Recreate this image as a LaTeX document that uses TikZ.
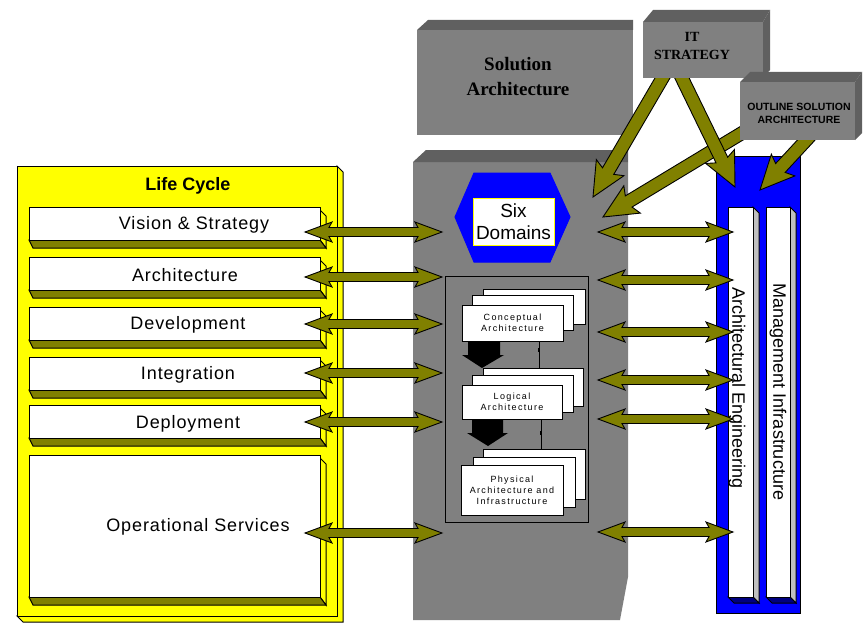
\documentclass[tikz,border=0pt]{standalone}
\usepackage{fontspec}
\setmainfont{Liberation Sans}
\newfontfamily\serifb{Liberation Serif}
\newfontfamily\stackfont{Liberation Sans}[LetterSpace=15]
\newfontfamily\rowfont{Liberation Sans}[LetterSpace=5]
\usetikzlibrary{calc}
\definecolor{ylw}{HTML}{FFFF00}
\definecolor{olv}{HTML}{808000}
\definecolor{gry}{HTML}{808080}
\definecolor{dgry}{HTML}{606060}
\definecolor{blu}{HTML}{0000FF}
\definecolor{dblu}{HTML}{000080}
\definecolor{lgry}{HTML}{C0C0C0}
% double-headed fat arrow between two named points
\newcommand\dblarr[2]{%
  \filldraw[arr] let \p1=(#1),\p2=(#2),\n1={atan2(\y2-\y1,\x2-\x1)} in
   (\p1) -- ($(\p1)+(\n1:27pt)+(\n1+90:10pt)$) -- ($(\p1)+(\n1:24pt)+(\n1+90:4.5pt)$)
   -- ($(\p2)+(\n1+180:24pt)+(\n1+90:4.5pt)$) -- ($(\p2)+(\n1+180:27pt)+(\n1+90:10pt)$)
   -- (\p2) -- ($(\p2)+(\n1+180:27pt)+(\n1-90:10pt)$) -- ($(\p2)+(\n1+180:24pt)+(\n1-90:4.5pt)$)
   -- ($(\p1)+(\n1:24pt)+(\n1-90:4.5pt)$) -- ($(\p1)+(\n1:27pt)+(\n1-90:10pt)$) -- cycle;}
% single-headed fat arrow
\newcommand\sglarr[2]{%
  \filldraw[arr] let \p1=(#1),\p2=(#2),\n1={atan2(\y2-\y1,\x2-\x1)} in
   ($(\p1)+(\n1+90:6.5pt)$) -- ($(\p2)+(\n1+180:30pt)+(\n1+90:6.5pt)$)
   -- ($(\p2)+(\n1+180:34pt)+(\n1+90:16pt)$) -- (\p2)
   -- ($(\p2)+(\n1+180:34pt)+(\n1-90:16pt)$) -- ($(\p2)+(\n1+180:30pt)+(\n1-90:6.5pt)$)
   -- ($(\p1)+(\n1-90:6.5pt)$) -- cycle;}
% life-cycle row: name, y top, height, text x, text y, text
\newcommand\lcrow[6]{%
  \filldraw[fill=ylw] (320,#2+3) -- (326,#2+9) -- (326,#2+#3+8) -- (320,#2+#3) -- cycle;
  \filldraw[fill=olv] (29,#2+#3) -- (320,#2+#3) -- (326,#2+#3+8) -- (33,#2+#3+8) -- cycle;
  \node[wbox,minimum width=291pt,minimum height=#3pt] (#1) at (29,#2) {};
  \node[rowtxt] (#1t) at (#4,#5) {#6};}
\begin{document}
\begin{tikzpicture}[x=1pt,y=-1pt,line width=1pt,line join=miter,
  nw/.style={anchor=north west,inner sep=0pt,outer sep=0pt},
  wbox/.style={nw,draw=black,fill=white},
  sbox/.style={nw,draw=black,fill=white,line width=0.9pt,align=center,
     font=\stackfont\fontsize{9}{11}\selectfont},
  rowtxt/.style={font=\rowfont\fontsize{18}{21}\selectfont},
  arr/.style={fill=olv,draw=black,line width=0.9pt}]
\useasboundingbox (0,0) rectangle (863,626);
\fill[white] (0,0) rectangle (863,626);

% ---- Life cycle ----
\filldraw[fill=ylw] (337,166) -- (343,172) -- (343,622) -- (23,622) -- (17,616) -- (337,616) -- cycle;
\node[nw,draw,fill=ylw,minimum width=320pt,minimum height=450pt] (lc) at (17,166) {};
\node[font=\bfseries\fontsize{18}{20}\selectfont] (lct) at (188,186) {Life Cycle};
\lcrow{vs}{207}{33}{194}{225}{Vision \& Strategy}
\lcrow{ar}{257}{33}{185}{275}{Architecture}
\lcrow{dv}{307}{33}{188}{325}{Development}
\lcrow{ig}{357}{33}{188}{375}{Integration}
\lcrow{dp}{405}{33}{188}{424}{Deployment}
\lcrow{op}{455}{142}{198}{527}{Operational Services}

% ---- Solution architecture box ----
\fill[dgry] (417,30) -- (428,20) -- (633,20) -- (633,30) -- cycle;
\node[nw,fill=gry,minimum width=216pt,minimum height=105pt] (sa) at (417,30) {};
\node[font=\serifb\bfseries\fontsize{19}{25}\selectfont,align=center] (sat) at (518,77) {Solution\\Architecture};

% ---- grey column ----
\fill[gry] (413,162) -- (628,162) -- (628,577) -- (620,620) -- (413,620) -- cycle;
\fill[dgry] (413,162) -- (426,150) -- (628,150) -- (628,162) -- cycle;

% six domains
\filldraw[fill=blu,draw=blu] (455,217) -- (474,173) -- (550,173) -- (570,217) -- (550,262) -- (474,262) -- cycle;
\node[nw,draw=ylw,fill=white,minimum width=81pt,minimum height=47pt,align=center,
      font=\fontsize{19}{22}\selectfont] (sd) at (473,198) {Six\\Domains};

% inner frame
\node[nw,draw,fill=gry,minimum width=143pt,minimum height=246pt] (fr) at (445,276) {};

% conceptual stack
\node[sbox,minimum width=102pt,minimum height=35pt] (c3) at (483,289) {};
\node[sbox,minimum width=101pt,minimum height=35pt] (c2) at (472,295) {};
\node[sbox,minimum width=101pt,minimum height=36pt] (c1) at (462,305) {Conceptual\\Architecture};
% logical stack
\node[sbox,minimum width=100pt,minimum height=38pt] (l3) at (483,368) {};
\node[sbox,minimum width=101pt,minimum height=37pt] (l2) at (472,375) {};
\node[sbox,minimum width=100pt,minimum height=34pt] (l1) at (462,385) {Logical\\Architecture};
% physical stack
\node[sbox,minimum width=102pt,minimum height=50pt] (p3) at (483,449) {};
\node[sbox,minimum width=102pt,minimum height=50pt] (p2) at (473,457) {};
\node[sbox,minimum width=102pt,minimum height=50pt] (p1) at (461,465) {Physical\\Architecture and\\Infrastructure};

% thin links
\coordinate (xa) at (539,0);
\coordinate (xb) at (541,0);
\draw (c1.south -| xa) -- (l3.north -| xa);
\draw[line width=2pt] (539,348) -- (539,352);
\draw (l1.south -| xb) -- (p3.north -| xb);
\draw[line width=2pt] (541,431) -- (541,435);
% black block arrows
\fill[black] (468,342) -- (500,342) -- (500,355) -- (504,355) -- (482,368) -- (462,355) -- (468,355) -- cycle;
\fill[black] (472,420) -- (503,420) -- (503,433) -- (508,433) -- (488,446) -- (467,433) -- (472,433) -- cycle;

% ---- blue frame ----
\node[nw,draw,fill=blu,minimum width=84pt,minimum height=457pt] (bf) at (716,156) {};
\filldraw[fill=lgry] (753,207) -- (759,213) -- (759,603) -- (753,597) -- cycle;
\filldraw[fill=dblu] (728,597) -- (753,597) -- (759,603) -- (734,603) -- cycle;
\node[wbox,minimum width=25pt,minimum height=390pt] (ae) at (728,207) {};
\filldraw[fill=lgry] (790,207) -- (796,213) -- (796,603) -- (790,597) -- cycle;
\filldraw[fill=dblu] (766,597) -- (790,597) -- (796,603) -- (772,603) -- cycle;
\node[wbox,minimum width=24pt,minimum height=390pt] (mi) at (766,207) {};
\node[rotate=-90,font=\fontsize{18}{20}\selectfont] (aet) at (737,388) {Architectural Engineering};
\node[rotate=-90,font=\fontsize{18}{20}\selectfont] (mit) at (778,392) {Management Infrastructure};

% ---- double arrows ----
\foreach \i/\yl/\yr in {1/232/232,2/277/280,3/324/332,4/373/380,5/422/419,6/533/532}{
  \coordinate (la\i) at (305,\yl);
  \coordinate (lb\i) at (442,\yl);
  \coordinate (ra\i) at (598,\yr);
  \coordinate (rb\i) at (733,\yr);
  \dblarr{la\i}{lb\i}
  \dblarr{ra\i}{rb\i}
}

% ---- diagonal arrows ----
\coordinate (d1a) at (666,72);  \coordinate (d1b) at (593,197);
\coordinate (d2a) at (679,72);  \coordinate (d2b) at (735,187);
\coordinate (d3a) at (752,127); \coordinate (d3b) at (603,217);
\coordinate (d4a) at (810,136); \coordinate (d4b) at (760,190);
\sglarr{d3a}{d3b}
\sglarr{d1a}{d1b}
\sglarr{d2a}{d2b}
\sglarr{d4a}{d4b}

% ---- IT strategy box ----
\fill[dgry] (643,22) -- (653,10) -- (770,10) -- (763,22) -- cycle;
\fill[dgry] (763,22) -- (770,10) -- (770,70) -- (763,78) -- cycle;
\node[nw,fill=gry,minimum width=120pt,minimum height=56pt] (it) at (643,22) {};
\node[font=\serifb\bfseries\fontsize{14}{18}\selectfont,align=center] (itt) at (692,46) {IT\\STRATEGY};

% ---- outline solution architecture box ----
\fill[dgry] (740,82) -- (750,72) -- (862,72) -- (855,82) -- cycle;
\fill[dgry] (855,82) -- (862,72) -- (862,133) -- (855,140) -- cycle;
\node[nw,fill=gry,minimum width=115pt,minimum height=58pt] (os) at (740,82) {};
\node[font=\bfseries\fontsize{10.5}{13}\selectfont,align=center] (ost) at (799,113) {OUTLINE SOLUTION\\ARCHITECTURE};
\end{tikzpicture}
\end{document}
